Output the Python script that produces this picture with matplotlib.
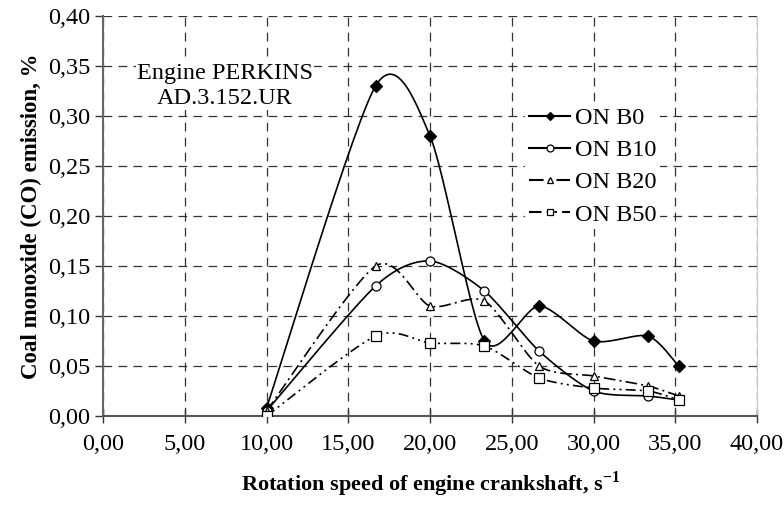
import numpy as np
import matplotlib
matplotlib.use("Agg")
import matplotlib.pyplot as plt
from matplotlib.ticker import FuncFormatter, MultipleLocator

plt.rcParams['font.family'] = ['Liberation Serif', 'DejaVu Serif']
plt.rcParams['mathtext.fontset'] = 'custom'
plt.rcParams['mathtext.rm'] = 'Liberation Serif'
plt.rcParams['mathtext.bf'] = 'Liberation Serif:bold'

# rotation speed, s^-1
speed = [10.0, 16.67, 20.0, 23.33, 26.67, 30.0, 33.33, 35.2]

# CO emission, %
co_b0 = [0.008, 0.330, 0.280, 0.075, 0.110, 0.075, 0.080, 0.050]
co_b10 = [0.005, 0.130, 0.155, 0.125, 0.065, 0.025, 0.020, 0.016]
co_b20 = [0.005, 0.150, 0.110, 0.115, 0.050, 0.040, 0.030, 0.020]
co_b50 = [0.000, 0.080, 0.073, 0.070, 0.038, 0.028, 0.025, 0.016]

labels = ['ON B0', 'ON B10', 'ON B20', 'ON B50']


def smooth(xs, ys, n=30, k=0.13):
    # smoothed line like Excel: cubic Bezier through the points
    p = np.column_stack([xs, ys]).astype(float)
    pts = np.vstack([p[0], p, p[-1]])
    out = []
    for i in range(1, len(pts) - 2):
        p0, p1, p2, p3 = pts[i - 1], pts[i], pts[i + 1], pts[i + 2]
        c1 = p1 + (p2 - p0) * k
        c2 = p2 - (p3 - p1) * k
        t = np.linspace(0, 1, n)[:, None]
        seg = ((1 - t) ** 3) * p1 + 3 * ((1 - t) ** 2) * t * c1 \
            + 3 * (1 - t) * t ** 2 * c2 + t ** 3 * p2
        out.append(seg if i == 1 else seg[1:])
    out = np.vstack(out)
    return out[:, 0], out[:, 1]


fig = plt.figure(figsize=(7.84, 5.08), dpi=100)
ax = fig.add_axes([0.1314, 0.1811, 0.8342, 0.7874])

styles = [
    dict(ls='-', marker='D', mfc='black', ms=6),
    dict(ls='-', marker='o', mfc='white', ms=6.5),
    dict(ls=(0, (7, 2.5, 1.2, 2.5)), marker='^', mfc='white', ms=6),
    dict(ls=(0, (6, 2.5, 1.2, 2.5, 1.2, 2.5)), marker='s', mfc='white', ms=6.5),
]

handles = []
for ys, st, lab in zip([co_b0, co_b10, co_b20, co_b50], styles, labels):
    sx, sy = smooth(speed, ys)
    ax.plot(sx, sy, color='black', ls=st['ls'], lw=1.2, zorder=3)
    ax.plot(speed, ys, ls='none', marker=st['marker'], mfc=st['mfc'],
            mec='black', mew=0.9, ms=st['ms'], zorder=4)
    h, = ax.plot([], [], color='black', ls=st['ls'], lw=1.5, marker=st['marker'],
                 mfc=st['mfc'], mec='black', mew=0.9, ms=st['ms'] - 1.5)
    handles.append(h)

ax.set_xlim(0, 40)
ax.set_ylim(0, 0.40)
ax.xaxis.set_major_locator(MultipleLocator(5))
ax.yaxis.set_major_locator(MultipleLocator(0.05))
ax.xaxis.set_major_formatter(FuncFormatter(lambda v, p: f'{v:.2f}'.replace('.', ',')))
ax.yaxis.set_major_formatter(FuncFormatter(lambda v, p: f'{v:.2f}'.replace('.', ',')))

ax.grid(True, color='#333333', lw=0.9, ls=(0, (7, 5)))
ax.tick_params(axis='x', direction='inout', length=10, width=1, colors='#333333',
               labelcolor='black', labelsize=17.5, pad=8)
ax.tick_params(axis='y', direction='out', length=6, width=1, colors='#333333',
               labelcolor='black', labelsize=17.5, pad=3)

ax.spines['top'].set_visible(False)
ax.spines['right'].set_color('#c8c8c8')
ax.spines['left'].set_color('#666666')
ax.spines['left'].set_linewidth(1.5)
ax.spines['bottom'].set_color('#555555')
ax.spines['bottom'].set_linewidth(1.5)

ax.set_xlabel('Rotation speed of engine crankshaft, s$^{\\mathbf{-1}}$',
              fontsize=16, fontweight='bold', labelpad=10)
ax.set_ylabel('Coal monoxide (CO) emission, %', fontsize=16.5, fontweight='bold',
              labelpad=4)

ax.text(7.46, 0.330, 'Engine PERKINS\nAD.3.152.UR', ha='center', va='center',
        fontsize=17.5, linespacing=1.25, zorder=5,
        bbox=dict(facecolor='white', edgecolor='none', pad=1))

leg = ax.legend(handles, labels, loc='upper left', bbox_to_anchor=(0.627, 0.812),
                fontsize=17.5, frameon=True, fancybox=False, edgecolor='none',
                facecolor='white', framealpha=1, handlelength=1.7,
                handletextpad=0.2, labelspacing=0.42, borderpad=0.15)
leg.set_zorder(6)

fig.savefig('out.png', dpi=100)
